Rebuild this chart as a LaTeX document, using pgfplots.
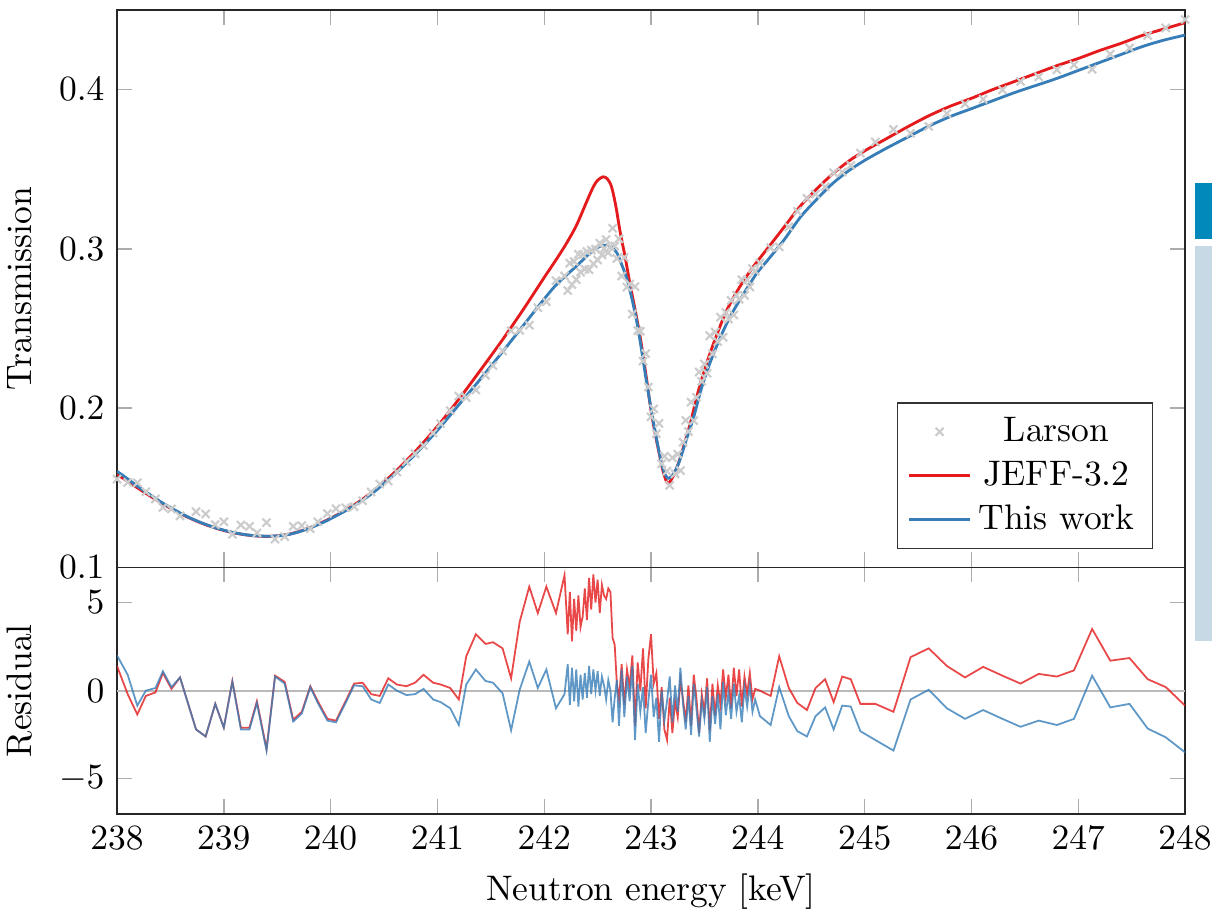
\documentclass[border=0pt]{standalone}
\usepackage{pgfplots}
\pgfplotsset{compat=1.18}
\usepackage{pgfplotstable}
\definecolor{jeffred}{RGB}{228,26,28}
\definecolor{workblue}{RGB}{55,126,184}
\definecolor{slideblue}{RGB}{0,137,186}
\definecolor{slidelight}{RGB}{200,217,230}

\pgfplotstableread{
E T
238.0 0.1584
238.2 0.1495
238.4 0.1410
238.6 0.1335
238.8 0.1275
239.0 0.1231
239.2 0.1204
239.4 0.1194
239.6 0.1206
239.8 0.1247
240.0 0.1308
240.2 0.1383
240.4 0.1478
240.6 0.1597
240.8 0.1733
241.0 0.1885
241.2 0.2055
241.4 0.2235
241.6 0.2420
241.8 0.2615
242.0 0.2820
242.1 0.2920
242.2 0.3025
242.3 0.3145
242.4 0.3300
242.46 0.3390
242.50 0.3430
242.55 0.3452
242.59 0.3440
242.63 0.3390
242.67 0.3270
242.71 0.3110
242.76 0.2940
242.80 0.2790
242.85 0.2620
242.90 0.2440
242.95 0.2220
242.99 0.2030
243.03 0.1870
243.07 0.1736
243.11 0.1610
243.14 0.1545
243.16 0.1527
243.19 0.1550
243.22 0.1590
243.26 0.1660
243.31 0.1770
243.37 0.1910
243.44 0.2100
243.52 0.2280
243.61 0.2450
243.71 0.2615
243.83 0.2760
243.96 0.2890
244.1 0.3010
244.25 0.3140
244.4 0.3270
244.55 0.3375
244.7 0.3470
244.85 0.3550
245.0 0.3615
245.2 0.3690
245.4 0.3765
245.6 0.3835
245.8 0.3895
246.0 0.3945
246.2 0.4000
246.4 0.4050
246.6 0.4100
246.8 0.4150
247.0 0.4195
247.2 0.4245
247.4 0.4290
247.6 0.4340
247.8 0.4380
248.0 0.4420
}\jeff

\pgfplotstableread{
E T
238.0 0.1603
238.1 0.1555
238.2 0.1505
238.3 0.1460
238.4 0.1415
238.5 0.1375
238.6 0.1338
238.7 0.1305
238.8 0.1277
238.9 0.1253
239.0 0.1233
239.1 0.1217
239.2 0.1205
239.3 0.1198
239.4 0.1195
239.5 0.1197
239.6 0.1205
239.7 0.1222
239.8 0.1245
239.9 0.1273
240.0 0.1305
240.2 0.1378
240.4 0.1470
240.6 0.1585
240.8 0.1715
241.0 0.1860
241.2 0.2020
241.4 0.2180
241.6 0.2345
241.8 0.2515
242.0 0.2685
242.1 0.2765
242.2 0.2830
242.3 0.2890
242.4 0.2955
242.46 0.2990
242.52 0.3015
242.58 0.3023
242.63 0.3010
242.68 0.2975
242.72 0.2910
242.77 0.2820
242.82 0.2690
242.87 0.2530
242.91 0.2370
242.96 0.2155
243.01 0.1960
243.06 0.1778
243.10 0.1650
243.13 0.1585
243.16 0.1559
243.19 0.1570
243.23 0.1610
243.27 0.1674
243.33 0.1800
243.40 0.1945
243.47 0.2120
243.55 0.2280
243.64 0.2430
243.74 0.2573
243.86 0.2710
243.99 0.2846
244.1 0.2935
244.25 0.3060
244.4 0.3200
244.55 0.3310
244.7 0.3410
244.85 0.3490
245.0 0.3555
245.2 0.3630
245.4 0.3700
245.6 0.3770
245.8 0.3830
246.0 0.3880
246.2 0.3930
246.4 0.3980
246.6 0.4025
246.8 0.4070
247.0 0.4120
247.2 0.4170
247.4 0.4220
247.6 0.4270
247.8 0.4310
248.0 0.4342
}\thiswork

% E, Larson transmission, residual This work, residual JEFF-3.2
\pgfplotstableread{
E T rb rr
238.00 0.1553 2.0 1.4
238.10 0.1533 0.9 -0.2
238.19 0.1531 -0.85 -1.35
238.27 0.1474 0.0 -0.3
238.36 0.1429 0.15 -0.1
238.43 0.1376 1.1 1.0
238.51 0.1366 0.2 0.1
238.59 0.1323 0.75 0.75
238.74 0.1349 -2.2 -2.2
238.83 0.1335 -2.6 -2.6
238.92 0.1268 -0.75 -0.75
239.00 0.1286 -2.1 -2.1
239.08 0.1208 0.5 0.55
239.16 0.1265 -2.2 -2.1
239.24 0.1257 -2.2 -2.1
239.31 0.1216 -0.7 -0.6
239.40 0.1280 -3.4 -3.3
239.48 0.1177 0.8 0.85
239.57 0.1193 0.4 0.5
239.65 0.1257 -1.75 -1.65
239.73 0.1262 -1.3 -1.2
239.81 0.1243 0.2 0.25
239.88 0.1285 -0.7 -0.6
239.97 0.1338 -1.7 -1.6
240.05 0.1368 -1.8 -1.7
240.14 0.1374 -0.7 -0.6
240.22 0.1380 0.3 0.4
240.30 0.1418 0.25 0.45
240.38 0.1473 -0.5 -0.2
240.46 0.1522 -0.7 -0.3
240.54 0.1541 0.35 0.7
240.62 0.1598 0.0 0.35
240.71 0.1663 -0.25 0.25
240.79 0.1713 -0.2 0.45
240.87 0.1764 0.1 0.9
240.96 0.1843 -0.5 0.45
241.03 0.1902 -0.65 0.35
241.12 0.1984 -1.0 0.15
241.20 0.2075 -1.95 -0.5
241.27 0.2066 0.35 1.95
241.36 0.2114 1.2 3.2
241.45 0.2206 0.55 2.65
241.52 0.2266 0.45 2.75
241.61 0.2358 -0.15 2.4
241.69 0.2485 -2.25 0.7
241.77 0.2488 0.05 3.9
241.86 0.2520 1.65 5.9
241.94 0.2630 0.15 4.4
242.02 0.2667 1.2 5.9
242.11 0.2800 -1.0 4.4
242.19 0.2830 -0.2 6.55
242.22 0.2737 1.5 3.2
242.24 0.2910 -0.8 5.6
242.26 0.2775 1.3 2.8
242.28 0.2920 -0.6 5.2
242.30 0.2806 1.2 3.4
242.32 0.2966 -0.9 5.4
242.34 0.2853 0.9 3.6
242.36 0.2964 -0.5 4.2
242.38 0.2872 1.0 5.8
242.40 0.2983 -0.4 4.0
242.42 0.2869 1.4 6.4
242.44 0.2992 -0.2 4.6
242.46 0.2906 1.2 6.6
242.48 0.2998 0.0 5.0
242.50 0.2930 1.1 6.3
242.52 0.3036 -0.3 4.4
242.54 0.2962 0.8 6.0
242.56 0.2999 0.3 5.4
242.58 0.3058 -0.5 5.2
242.60 0.2976 0.6 5.8
242.62 0.3013 0.0 5.6
242.64 0.3129 -1.8 3.0
242.66 0.3017 -0.4 2.6
242.68 0.2939 0.6 0.4
242.70 0.3063 -2.0 -0.5
242.725 0.2829 1.2 1.5
242.75 0.2946 -1.5 -0.8
242.775 0.2759 0.8 1.2
242.80 0.2778 -0.6 0.2
242.825 0.2590 1.4 2.0
242.85 0.2762 -2.8 -2.0
242.875 0.2486 0.4 1.6
242.90 0.2482 -1.2 0.0
242.925 0.2294 0.2 2.4
242.95 0.2342 -2.4 -1.0
242.975 0.2132 -0.6 1.8
243.00 0.1945 0.9 3.2
243.025 0.1995 -1.5 0.4
243.05 0.1838 -0.4 1.0
243.075 0.1904 -2.9 -1.6
243.10 0.1650 0.0 0.2
243.125 0.1698 -1.7 -2.2
243.15 0.1604 -0.6 -2.8
243.175 0.1515 0.8 -0.4
243.20 0.1688 -1.8 -2.4
243.225 0.1587 0.3 -0.6
243.25 0.1711 -1.2 -1.5
243.275 0.1607 1.3 0.6
243.30 0.1785 -0.8 -0.5
243.325 0.1922 -2.2 -1.8
243.35 0.1853 -0.3 0.3
243.375 0.2037 -2.5 -2.0
243.40 0.1921 0.4 0.9
243.425 0.2067 -1.0 -0.4
243.45 0.2226 -2.6 -2.4
243.475 0.2167 -0.6 -0.2
243.50 0.2276 -1.6 -1.2
243.525 0.2218 0.2 0.7
243.55 0.2454 -2.9 -2.3
243.575 0.2340 -0.3 0.4
243.60 0.2477 -1.9 -1.4
243.625 0.2417 -0.2 0.3
243.65 0.2571 -2.2 -0.8
243.675 0.2444 0.5 1.2
243.70 0.2600 -1.4 -0.4
243.725 0.2558 -0.1 0.9
243.75 0.2676 -1.6 -1.0
243.775 0.2584 0.4 1.3
243.80 0.2709 -1.2 -0.3
243.825 0.2683 -0.3 1.2
243.85 0.2806 -1.8 -0.9
243.875 0.2708 0.2 0.8
243.90 0.2804 -0.9 -0.2
243.925 0.2760 0.3 1.0
243.95 0.2876 -1.2 -0.5
243.975 0.2860 -0.5 0.1
244.02 0.2911 -1.45 0.0
244.12 0.3007 -1.95 -0.3
244.20 0.3012 0.2 1.95
244.29 0.3138 -1.45 0.15
244.37 0.3236 -2.3 -0.7
244.46 0.3317 -2.6 -1.1
244.54 0.3344 -1.45 0.15
244.63 0.3390 -0.95 0.65
244.71 0.3477 -2.2 -0.65
244.79 0.3482 -0.85 0.8
244.87 0.3524 -0.9 0.65
244.96 0.3602 -2.3 -0.75
245.10 0.3671 -2.8 -0.75
245.27 0.3750 -3.4 -1.2
245.43 0.3725 -0.5 1.9
245.60 0.3769 0.05 2.4
245.77 0.3849 -1.0 1.4
245.94 0.3910 -1.6 0.75
246.11 0.3939 -1.1 1.35
246.29 0.3998 -1.6 0.85
246.46 0.4051 -2.05 0.4
246.63 0.4080 -1.7 0.95
246.80 0.4125 -1.95 0.8
246.96 0.4155 -1.6 1.15
247.13 0.4128 0.85 3.5
247.30 0.4222 -0.95 1.7
247.48 0.4261 -0.75 1.85
247.65 0.4340 -2.15 0.65
247.82 0.4387 -2.65 0.2
248.00 0.4440 -3.5 -0.85
}\larson

\begin{document}
\begin{tikzpicture}
\pgfplotsset{
  every axis/.append style={
    scale only axis,
    width=300.85pt,
    xmin=238, xmax=248,
    xtick={238,239,240,241,242,243,244,245,246,247,248},
    tick style={gray!65, thin},
    axis line style={black!85},
    ylabel style={at={(axis description cs:-0.0676,0.5)}, anchor=south, rotate=0},
  },
}
% residual panel
\begin{axis}[
  name=res,
  at={(0,0)}, anchor=south west,
  height=69.5pt,
  ymin=-7, ymax=7,
  ytick={-5,0,5},
  xlabel={Neutron energy [keV]},
  ylabel={Residual},
]
\addplot[gray!55, line width=0.6pt, forget plot] coordinates {(238,0) (248,0)};
\addplot[jeffred, line width=0.5pt, opacity=0.8] table[x=E, y=rr] {\larson};
\addplot[workblue, line width=0.5pt, opacity=0.8] table[x=E, y=rb] {\larson};
\end{axis}
% transmission panel
\begin{axis}[
  name=trans,
  at={(0,69.5pt)}, anchor=south west,
  height=157pt,
  ymin=0.1, ymax=0.45,
  ytick={0.1,0.2,0.3,0.4},
  xticklabels={},
  ylabel={Transmission},
  legend cell align=center,
  legend style={at={(axis description cs:0.97,0.032)}, anchor=south east, draw=black!80},
]
\addplot[only marks, mark=x, mark size=1.6pt, color=gray!40, mark options={line width=0.6pt}] table[x=E, y=T] {\larson};
\addlegendentry{Larson}
\addplot[jeffred, thick, smooth] table[x=E, y=T] {\jeff};
\addlegendentry{JEFF-3.2}
\addplot[workblue, thick, smooth] table[x=E, y=T] {\thiswork};
\addlegendentry{This work}
\end{axis}
\fill[slideblue] (303.7pt,162.0pt) rectangle (308.45pt,177.7pt);
\fill[slidelight] (303.7pt,48.7pt) rectangle (308.45pt,160.0pt);
\pgfresetboundingbox
\path[use as bounding box] (-32.96pt,-27.04pt) rectangle (308.45pt,229.3pt);
\end{tikzpicture}
\end{document}
